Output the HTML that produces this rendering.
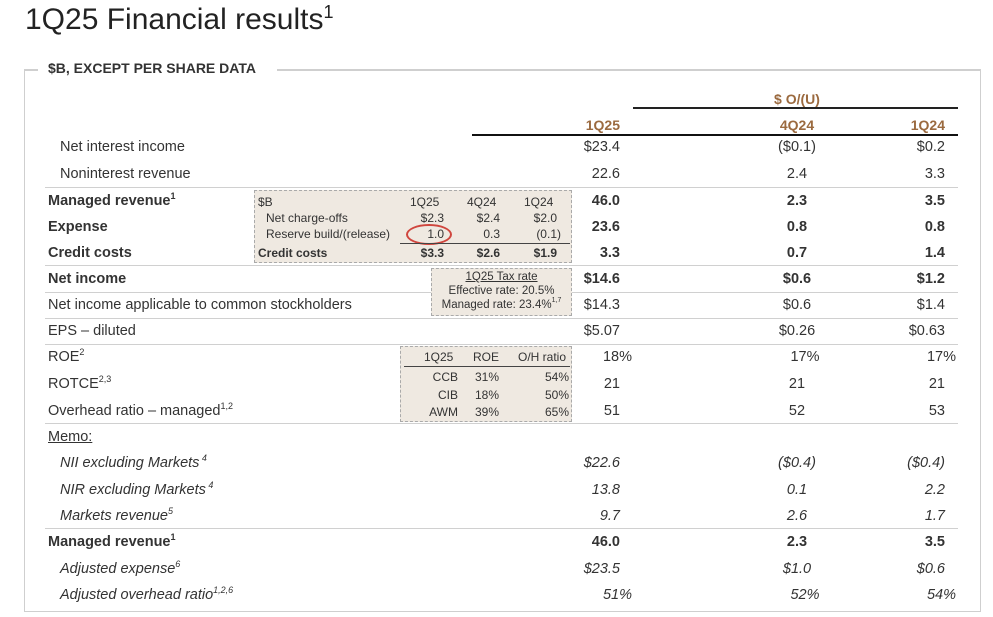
<!DOCTYPE html>
<html><head><meta charset="utf-8"><style>
body{margin:0;width:993px;height:617px;background:#fff;font-family:"Liberation Sans",sans-serif;color:#333;position:relative;overflow:hidden}
div{position:absolute;white-space:nowrap}
.t{left:25px;top:3px;font-size:30px;color:#222}
.t sup{font-size:18px;vertical-align:11px}
.box{left:24px;top:70px;width:955px;height:541px;border:1.5px solid #cfcfcf;border-top:none}
.bt1{left:24px;top:69px;width:14px;height:1.5px;background:#cfcfcf}
.bt2{left:277px;top:69px;width:704px;height:1.5px;background:#cfcfcf}
.cap{left:48px;top:60px;font-size:14px;font-weight:bold;color:#333}
.r{font-size:14.5px;line-height:18px}
.l{left:60px}.lb{left:48px;font-weight:bold}
.a{right:373px;text-align:right}
.b{left:697px;width:200px;text-align:center}
.c{right:48px;text-align:right}
.bo{font-weight:bold}.it{font-style:italic}
sup{font-size:9px;vertical-align:6px;line-height:0}
.hl{height:1px;background:#d0d0d0;left:45px;width:913px}
.hd{font-weight:bold;color:#9b6a3f;font-size:14px}
.db{border:1.5px dashed #aaa;background:#efe9e1}
.s{font-size:12px;line-height:14px}
</style></head><body>
<div class="t">1Q25 Financial results<sup>1</sup></div>
<div class="box"></div><div class="bt1"></div><div class="bt2"></div>
<div class="cap">$B, EXCEPT PER SHARE DATA</div>

<div class="hd" style="left:697px;width:200px;text-align:center;top:91px">$ O/(U)</div>
<div style="left:633px;top:107px;width:325px;height:2px;background:#222"></div>
<div class="hd" style="right:373px;top:117px">1Q25</div>
<div class="hd" style="left:697px;width:200px;text-align:center;top:117px">4Q24</div>
<div class="hd" style="right:48px;top:117px">1Q24</div>
<div style="left:472px;top:134px;width:486px;height:2px;background:#111"></div>

<div class="hl" style="top:187px"></div>
<div class="hl" style="top:265px"></div>
<div class="hl" style="top:292px"></div>
<div class="hl" style="top:318px"></div>
<div class="hl" style="top:344px"></div>
<div class="hl" style="top:423px"></div>
<div class="hl" style="top:528px"></div>

<div class="r l" style="top:138px">Net interest income</div>
<div class="r a" style="top:138px">$23.4</div><div class="r b" style="top:138px">($0.1)</div><div class="r c" style="top:138px">$0.2</div>

<div class="r l" style="top:165px">Noninterest revenue</div>
<div class="r a" style="top:165px">22.6</div><div class="r b" style="top:165px">2.4</div><div class="r c" style="top:165px">3.3</div>

<div class="r lb" style="top:192px">Managed revenue<sup>1</sup></div>
<div class="r a bo" style="top:192px">46.0</div><div class="r b bo" style="top:192px">2.3</div><div class="r c bo" style="top:192px">3.5</div>

<div class="r lb" style="top:218px">Expense</div>
<div class="r a bo" style="top:218px">23.6</div><div class="r b bo" style="top:218px">0.8</div><div class="r c bo" style="top:218px">0.8</div>

<div class="r lb" style="top:244px">Credit costs</div>
<div class="r a bo" style="top:244px">3.3</div><div class="r b bo" style="top:244px">0.7</div><div class="r c bo" style="top:244px">1.4</div>

<div class="r lb" style="top:270px">Net income</div>
<div class="r a bo" style="top:270px">$14.6</div><div class="r b bo" style="top:270px">$0.6</div><div class="r c bo" style="top:270px">$1.2</div>

<div class="r" style="left:48px;top:296px">Net income applicable to common stockholders</div>
<div class="r a" style="top:296px">$14.3</div><div class="r b" style="top:296px">$0.6</div><div class="r c" style="top:296px">$1.4</div>

<div class="r" style="left:48px;top:322px">EPS – diluted</div>
<div class="r a" style="top:322px">$5.07</div><div class="r b" style="top:322px">$0.26</div><div class="r c" style="top:322px">$0.63</div>

<div class="r" style="left:48px;top:348px">ROE<sup>2</sup></div>
<div class="r" style="right:361px;top:348px">18%</div><div class="r b" style="top:348px;left:705px">17%</div><div class="r" style="right:37px;top:348px">17%</div>

<div class="r" style="left:48px;top:375px">ROTCE<sup>2,3</sup></div>
<div class="r a" style="top:375px">21</div><div class="r b" style="top:375px">21</div><div class="r c" style="top:375px">21</div>

<div class="r" style="left:48px;top:402px">Overhead ratio – managed<sup>1,2</sup></div>
<div class="r a" style="top:402px">51</div><div class="r b" style="top:402px">52</div><div class="r c" style="top:402px">53</div>

<div class="r" style="left:48px;top:428px;text-decoration:underline">Memo:</div>

<div class="r l it" style="top:454px">NII excluding Markets<sup> 4</sup></div>
<div class="r a it" style="top:454px">$22.6</div><div class="r b it" style="top:454px">($0.4)</div><div class="r c it" style="top:454px">($0.4)</div>

<div class="r l it" style="top:481px">NIR excluding Markets<sup> 4</sup></div>
<div class="r a it" style="top:481px">13.8</div><div class="r b it" style="top:481px">0.1</div><div class="r c it" style="top:481px">2.2</div>

<div class="r l it" style="top:507px">Markets revenue<sup>5</sup></div>
<div class="r a it" style="top:507px">9.7</div><div class="r b it" style="top:507px">2.6</div><div class="r c it" style="top:507px">1.7</div>

<div class="r lb" style="top:533px">Managed revenue<sup>1</sup></div>
<div class="r a bo" style="top:533px">46.0</div><div class="r b bo" style="top:533px">2.3</div><div class="r c bo" style="top:533px">3.5</div>

<div class="r l it" style="top:560px">Adjusted expense<sup>6</sup></div>
<div class="r a it" style="top:560px">$23.5</div><div class="r b it" style="top:560px">$1.0</div><div class="r c it" style="top:560px">$0.6</div>

<div class="r l it" style="top:586px">Adjusted overhead ratio<sup>1,2,6</sup></div>
<div class="r it" style="right:361px;top:586px">51%</div><div class="r b it" style="top:586px;left:705px">52%</div><div class="r it" style="right:37px;top:586px">54%</div>

<div class="db" style="left:254px;top:190px;width:316px;height:71px"></div>
<div style="left:256px;top:207px;width:314px;height:20px;background:#efe9e1"></div>
<div class="s" style="left:258px;top:195px">$B</div>
<div class="s" style="left:410px;top:195px">1Q25</div><div class="s" style="left:467px;top:195px">4Q24</div><div class="s" style="left:524px;top:195px">1Q24</div>
<div class="s" style="left:266px;top:211px">Net charge-offs</div>
<div class="s" style="right:549px;top:211px">$2.3</div><div class="s" style="right:493px;top:211px">$2.4</div><div class="s" style="right:436px;top:211px">$2.0</div>
<div class="s" style="left:266px;top:227px">Reserve build/(release)</div>
<div class="s" style="right:549px;top:227px">1.0</div><div class="s" style="right:493px;top:227px">0.3</div><div class="s" style="right:432px;top:227px">(0.1)</div>
<div style="left:406px;top:224px;width:42px;height:17px;border:2px solid #d0463e;border-radius:50%"></div>
<div style="left:400px;top:243px;width:170px;height:1px;background:#444"></div>
<div class="s bo" style="left:258px;top:246px">Credit costs</div>
<div class="s bo" style="right:549px;top:246px">$3.3</div><div class="s bo" style="right:493px;top:246px">$2.6</div><div class="s bo" style="right:436px;top:246px">$1.9</div>

<div class="db" style="left:431px;top:268px;width:139px;height:46px"></div>
<div class="s" style="left:431px;width:141px;text-align:center;top:270px;font-size:11.5px"><span style="text-decoration:underline">1Q25 Tax rate</span></div>
<div class="s" style="left:431px;width:141px;text-align:center;top:284px;font-size:11.5px">Effective rate: 20.5%</div>
<div class="s" style="left:431px;width:141px;text-align:center;top:298px;font-size:11.5px">Managed rate: 23.4%<sup style="font-size:7px">1,7</sup></div>

<div class="db" style="left:400px;top:346px;width:170px;height:74px"></div>
<div class="s" style="left:424px;top:350px">1Q25</div><div class="s" style="left:473px;top:350px">ROE</div><div class="s" style="left:518px;top:350px">O/H ratio</div>
<div style="left:404px;top:366px;width:166px;height:1px;background:#444"></div>
<div class="s" style="right:535px;top:370px">CCB</div><div class="s" style="left:475px;top:370px">31%</div><div class="s" style="right:424px;top:370px">54%</div>
<div class="s" style="right:535px;top:388px">CIB</div><div class="s" style="left:475px;top:388px">18%</div><div class="s" style="right:424px;top:388px">50%</div>
<div class="s" style="right:535px;top:405px">AWM</div><div class="s" style="left:475px;top:405px">39%</div><div class="s" style="right:424px;top:405px">65%</div>
</body></html>
